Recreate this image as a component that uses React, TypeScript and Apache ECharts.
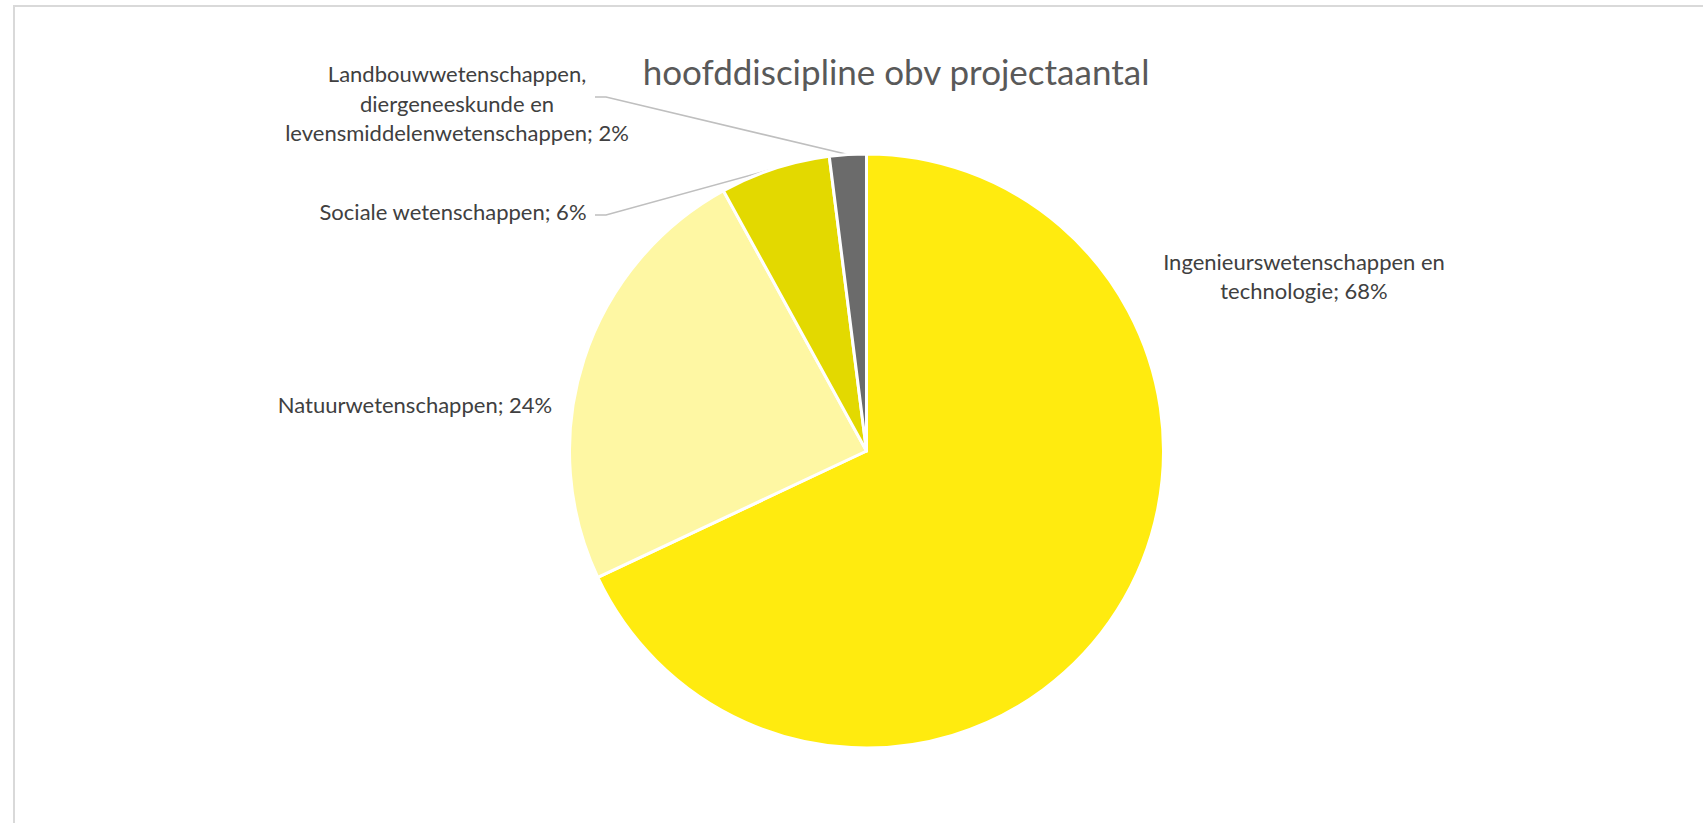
import React, { useEffect, useRef } from "react";
import * as echarts from "echarts";

const categories = [
  "Ingenieurswetenschappen en technologie",
  "Natuurwetenschappen",
  "Sociale wetenschappen",
  "Landbouwwetenschappen, diergeneeskunde en levensmiddelenwetenschappen",
];
const labelTexts = [
  "Ingenieurswetenschappen en\ntechnologie",
  "Natuurwetenschappen",
  "Sociale wetenschappen",
  "Landbouwwetenschappen,\ndiergeneeskunde en\nlevensmiddelenwetenschappen",
];
const values = [68, 24, 6, 2];
const colors = ["#FFEB0F", "#FEF7A3", "#E3D900", "#6B6B6B"];
const titleText = "hoofddiscipline obv projectaantal";

// label layout (positions only)
const labelPos = [
  { x: 1304, y: 276, line: false },
  { x: 415, y: 404, line: false },
  { x: 453, y: 211, line: true, lx: 595, ly: 215 },
  { x: 457, y: 103, line: true, lx: 595, ly: 97 },
];

const FONT = "Lato";

export default function App() {
  const ref = useRef<HTMLDivElement>(null);
  useEffect(() => {
    const chart = echarts.init(ref.current!, null, { renderer: "svg" });
    chart.setOption({
      animation: false,
      backgroundColor: "#ffffff",
      title: {
        text: titleText,
        left: 896,
        top: 53,
        textAlign: "center",
        padding: 0,
        textStyle: { fontFamily: FONT, fontSize: 35, fontWeight: "normal", color: "#595959" },
      },
      graphic: [
        {
          type: "rect",
          silent: true,
          shape: { x: 14, y: 6, width: 1760, height: 900 },
          style: { fill: "none", stroke: "#D9D9D9", lineWidth: 2 },
        },
      ],
      series: [
        {
          type: "pie",
          center: [866.5, 451],
          radius: 297,
          startAngle: 90,
          clockwise: true,
          silent: true,
          itemStyle: { borderColor: "#ffffff", borderWidth: 3 },
          emphasis: { disabled: true },
          label: {
            show: true,
            position: "outside",
            fontFamily: FONT,
            fontSize: 22,
            lineHeight: 29.5,
            color: "#404040",
            formatter: (p: any) => `${labelTexts[p.dataIndex]}; ${Math.round(p.percent)}%`,
          },
          labelLine: { show: true, length: 10, length2: 10, lineStyle: { color: "#BFBFBF", width: 1.5 } },
          labelLayout: (params: any) => {
            const L = labelPos[params.dataIndex];
            const res: any = { x: L.x, y: L.y, align: "center", verticalAlign: "middle" };
            if (L.line && params.labelLinePoints) {
              const p0 = params.labelLinePoints[0];
              res.labelLinePoints = [p0, [L.lx! + 11, L.ly!], [L.lx!, L.ly!]];
            }
            return res;
          },
          data: values.map((v, i) => ({
            name: categories[i],
            value: v,
            itemStyle: { color: colors[i] },
            labelLine: { show: labelPos[i].line },
          })),
        },
      ],
    });
    return () => chart.dispose();
  }, []);
  return (
    <div
      ref={ref}
      style={{ position: "absolute", left: 0, top: 0, width: 1703, height: 823, background: "#fff" }}
    />
  );
}
